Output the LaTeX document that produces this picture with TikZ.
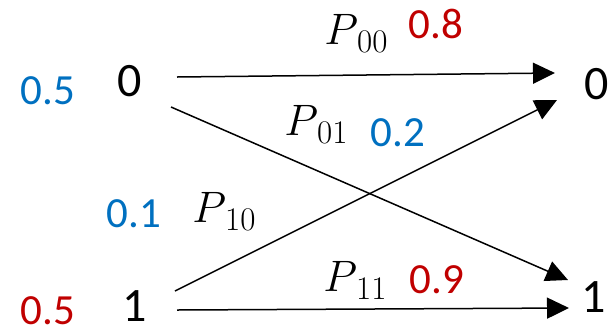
\RequirePackage{fix-cm}
\documentclass[tikz,border=0pt]{standalone}
\usepackage[no-math]{fontspec}
\newfontfamily\calfont{Carlito}
\usetikzlibrary{arrows.meta,calc}
\definecolor{pblue}{HTML}{0070C0}
\definecolor{pred}{HTML}{C00000}
\newcommand\Plab[1]{$P$\kern-1pt\raisebox{-8pt}{\fontsize{33}{35}\selectfont #1}}
\begin{document}
\begin{tikzpicture}[x=1pt,y=-1pt,
  digit/.style={inner sep=0pt, font=\calfont\fontsize{48}{50}\selectfont},
  bprob/.style={inner sep=0pt, text=pblue, font=\calfont\fontsize{43}{45}\selectfont},
  rprob/.style={inner sep=0pt, text=pred, font=\calfont\fontsize{43}{45}\selectfont},
  plab/.style={inner sep=0pt, font=\fontsize{44}{46}\selectfont},
  arr/.style={line width=1.5pt, -{Triangle[length=22pt,width=21pt]}}]
\useasboundingbox (0,0) rectangle (612,333);
% states
\node[digit] (l0) at (130,81) {0};
\node[digit] (l1) at (135,306) {1};
\node[digit] (r0) at (597,84) {0};
\node[digit] (r1) at (594,297) {1};
% priors
\node[bprob] (pa) at (48,91) {0.5};
\node[rprob] (pb) at (48,311) {0.5};
% arrows
\draw[arr] ($(l0)+(47,-4)$) -- ($(r0)+(-42,-11)$);
\draw[arr] ($(l0)+(41,26)$) -- ($(r1)+(-26,-17)$);
\draw[arr] ($(l1)+(40,-15)$) -- ($(r0)+(-40,16)$);
\draw[arr] ($(l1)+(42,4)$) -- ($(r1)+(-25,11)$);
% labels
\node[plab] (p00) at (356,34) {\Plab{00}};
\node[rprob] (v00) at (436,24) {0.8};
\node[plab] (p01) at (316,125) {\Plab{01}};
\node[bprob] (v01) at (398,133) {0.2};
\node[plab] (p10) at (224,212) {\Plab{10}};
\node[bprob] (v10) at (134,214) {0.1};
\node[plab] (p11) at (355,280) {\Plab{11}};
\node[rprob] (v11) at (437,280) {0.9};
\end{tikzpicture}
\end{document}
